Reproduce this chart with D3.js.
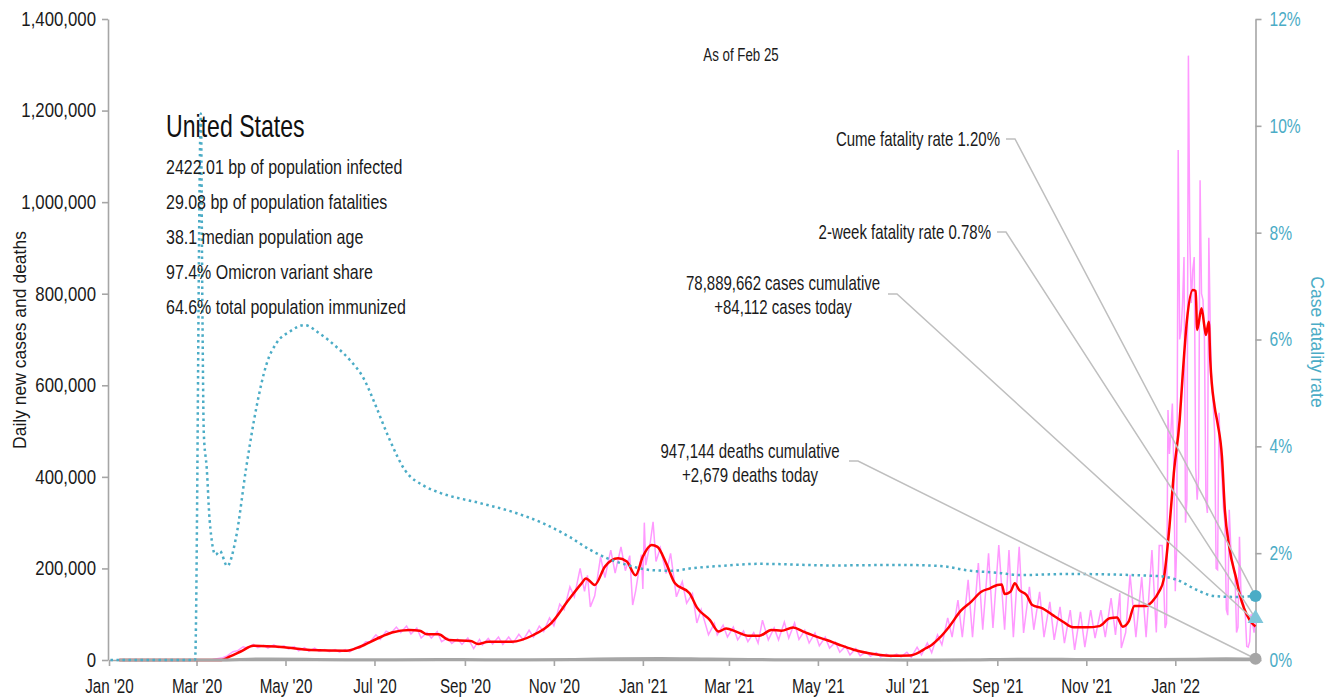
<!DOCTYPE html>
<html>
<head>
<meta charset="utf-8">
<script src="https://cdn.jsdelivr.net/npm/d3@7"></script>
<style>
body { margin: 0; background: #fff; }
text { font-family: "Liberation Sans", Arial, sans-serif; }
</style>
</head>
<body>
<div id="chart"></div>
<script>
// ticks
const yTicks = [0, 200000, 400000, 600000, 800000, 1000000, 1200000, 1400000];
const rateTicks = [0, 0.02, 0.04, 0.06, 0.08, 0.10, 0.12];
const xTicks = ["2020-01-01","2020-03-01","2020-05-01","2020-07-01","2020-09-01","2020-11-01",
  "2021-01-01","2021-03-01","2021-05-01","2021-07-01","2021-09-01","2021-11-01","2022-01-01"];

// daily new cases, thousands
const dailyCasesK = [
  ["2020-01-08",0],["2020-02-29",0],["2020-03-05",0.2],["2020-03-08",0.5],["2020-03-12",1],["2020-03-15",3],
  ["2020-03-19",5],["2020-03-22",9],["2020-03-26",18],["2020-03-29",20],["2020-04-02",29],["2020-04-05",26],
  ["2020-04-09",34],["2020-04-12",27],["2020-04-16",32],["2020-04-19",26],["2020-04-23",33],["2020-04-26",27],
  ["2020-04-30",31],["2020-05-03",24],["2020-05-07",29],["2020-05-10",20],["2020-05-14",27],["2020-05-17",19],
  ["2020-05-21",26],["2020-05-24",19],["2020-05-28",23],["2020-05-31",18],["2020-06-04",23],["2020-06-07",17],
  ["2020-06-11",23],["2020-06-14",18],["2020-06-18",27],["2020-06-21",26],["2020-06-25",40],["2020-06-28",40],
  ["2020-07-02",55],["2020-07-05",45],["2020-07-09",63],["2020-07-12",58],["2020-07-16",72],["2020-07-19",60],
  ["2020-07-23",74],["2020-07-26",57],["2020-07-30",70],["2020-08-02",48],["2020-08-06",60],["2020-08-09",48],
  ["2020-08-13",62],["2020-08-16",40],["2020-08-20",48],["2020-08-23",36],["2020-08-27",46],["2020-08-30",34],
  ["2020-09-03",48],["2020-09-07",25],["2020-09-11",45],["2020-09-13",33],["2020-09-17",47],["2020-09-20",35],
  ["2020-09-24",50],["2020-09-27",34],["2020-10-01",50],["2020-10-04",37],["2020-10-08",56],["2020-10-11",44],
  ["2020-10-15",65],["2020-10-18",50],["2020-10-22",74],["2020-10-25",62],["2020-10-29",92],["2020-11-01",75],
  ["2020-11-05",122],["2020-11-08",110],["2020-11-12",160],["2020-11-15",138],["2020-11-19",200],["2020-11-22",150],
  ["2020-11-24",185],["2020-11-26",116],["2020-11-29",140],["2020-12-03",225],["2020-12-06",180],["2020-12-10",240],
  ["2020-12-13",190],["2020-12-17",247],["2020-12-20",195],["2020-12-23",228],["2020-12-25",120],["2020-12-27",150],
  ["2020-12-31",230],["2021-01-01",155],["2021-01-02",300],["2021-01-03",207],["2021-01-06",255],["2021-01-08",302],
  ["2021-01-10",215],["2021-01-13",245],["2021-01-17",189],["2021-01-20",233],["2021-01-24",138],["2021-01-28",171],
  ["2021-01-31",124],["2021-02-04",145],["2021-02-07",81],["2021-02-10",110],["2021-02-15",55],["2021-02-19",80],
  ["2021-02-21",55],["2021-02-25",76],["2021-02-28",50],["2021-03-04",72],["2021-03-07",44],["2021-03-11",63],
  ["2021-03-14",40],["2021-03-18",60],["2021-03-21",37],["2021-03-24",87],["2021-03-28",44],["2021-04-01",70],
  ["2021-04-04",44],["2021-04-08",83],["2021-04-11",48],["2021-04-15",81],["2021-04-18",45],["2021-04-22",65],
  ["2021-04-25",37],["2021-04-29",59],["2021-05-02",31],["2021-05-06",50],["2021-05-09",26],["2021-05-13",39],
  ["2021-05-16",17],["2021-05-20",30],["2021-05-23",11],["2021-05-27",25],["2021-05-30",9],["2021-06-03",18],
  ["2021-06-06",8],["2021-06-10",16],["2021-06-13",7],["2021-06-17",13],["2021-06-20",7],["2021-06-24",13],
  ["2021-06-27",7],["2021-07-01",17],["2021-07-04",6],["2021-07-08",28],["2021-07-11",11],["2021-07-15",37],
  ["2021-07-18",16],["2021-07-22",55],["2021-07-25",33],["2021-07-29",92],["2021-08-01",50],["2021-08-05",131],
  ["2021-08-08",50],["2021-08-12",175],["2021-08-15",50],["2021-08-19",212],["2021-08-22",66],["2021-08-26",233],
  ["2021-08-29",70],["2021-09-02",251],["2021-09-06",66],["2021-09-09",240],["2021-09-12",50],["2021-09-16",247],
  ["2021-09-19",59],["2021-09-23",160],["2021-09-26",66],["2021-09-30",149],["2021-10-03",50],["2021-10-07",127],
  ["2021-10-10",44],["2021-10-14",116],["2021-10-17",37],["2021-10-21",109],["2021-10-24",22],["2021-10-28",105],
  ["2021-10-31",28],["2021-11-04",109],["2021-11-07",48],["2021-11-11",109],["2021-11-14",50],["2021-11-18",135],
  ["2021-11-21",55],["2021-11-24",146],["2021-11-25",26],["2021-11-28",60],["2021-12-01",186],["2021-12-05",50],
  ["2021-12-09",181],["2021-12-12",50],["2021-12-16",240],["2021-12-19",60],["2021-12-21",250],["2021-12-23",250],
  ["2021-12-24",180],["2021-12-25",70],["2021-12-26",80],["2021-12-27",546],["2021-12-28",450],["2021-12-29",500],
  ["2021-12-30",560],["2021-12-31",420],["2022-01-01",150],["2022-01-02",250],["2022-01-03",1114],["2022-01-04",700],
  ["2022-01-05",720],["2022-01-06",780],["2022-01-07",880],["2022-01-08",300],["2022-01-09",350],["2022-01-10",1320],
  ["2022-01-11",911],["2022-01-12",780],["2022-01-13",852],["2022-01-14",880],["2022-01-15",420],["2022-01-16",350],
  ["2022-01-17",400],["2022-01-18",1048],["2022-01-19",800],["2022-01-20",786],["2022-01-21",700],["2022-01-22",350],
  ["2022-01-23",321],["2022-01-24",922],["2022-01-25",721],["2022-01-26",600],["2022-01-27",560],["2022-01-28",496],
  ["2022-01-29",200],["2022-01-30",197],["2022-01-31",540],["2022-02-01",443],["2022-02-02",400],["2022-02-03",334],
  ["2022-02-04",300],["2022-02-05",110],["2022-02-06",98],["2022-02-07",328],["2022-02-08",250],["2022-02-09",220],
  ["2022-02-10",200],["2022-02-11",180],["2022-02-12",60],["2022-02-13",72],["2022-02-14",269],["2022-02-15",150],
  ["2022-02-16",130],["2022-02-17",120],["2022-02-18",100],["2022-02-19",30],["2022-02-20",28],["2022-02-21",40],
  ["2022-02-22",100],["2022-02-23",80],["2022-02-24",60],["2022-02-25",84.112]
];

// 7-day average of new cases, thousands
const avgCasesK = [
  ["2020-01-08",0],["2020-03-18",0],["2020-03-24",8],["2020-03-31",18],["2020-04-09",31],["2020-04-30",27.7],
  ["2020-05-18",21.8],["2020-06-12",20.3],["2020-06-21",29],["2020-07-03",47],["2020-07-13",60],["2020-07-25",65.5],
  ["2020-08-01",64],["2020-08-06",56],["2020-08-14",56],["2020-08-21",43.7],["2020-09-05",41.5],["2020-09-10",35],
  ["2020-09-17",40],["2020-10-03",40],["2020-10-18",54.6],["2020-10-30",80],["2020-11-11",131],["2020-11-20",167.5],
  ["2020-11-23",178],["2020-11-29",164],["2020-12-06",204],["2020-12-15",222],["2020-12-21",215],["2020-12-27",185],
  ["2021-01-01",226],["2021-01-07",251],["2021-01-11",247],["2021-01-17",211],["2021-01-23",167.5],["2021-02-02",146],
  ["2021-02-07",115],["2021-02-16",87],["2021-02-22",62],["2021-02-27",69],["2021-03-06",62],["2021-03-14",53],
  ["2021-03-22",53],["2021-03-30",65.5],["2021-04-06",64],["2021-04-14",71],["2021-04-21",62],["2021-04-30",51],
  ["2021-05-07",43.7],["2021-05-16",32.8],["2021-05-25",23],["2021-06-05",14.6],["2021-06-19",9.4],["2021-07-03",10],
  ["2021-07-10",18],["2021-07-14",25.6],["2021-07-18",32.8],["2021-07-23",47],["2021-07-30",72.8],["2021-08-07",107.7],
  ["2021-08-14",127],["2021-08-21",149],["2021-08-27",156.6],["2021-09-01",163.8],["2021-09-04",165],["2021-09-06",144],
  ["2021-09-10",149],["2021-09-13",167.5],["2021-09-16",153],["2021-09-21",142],["2021-09-25",120],["2021-10-02",113],
  ["2021-10-09",98],["2021-10-16",83.6],["2021-10-23",71.4],["2021-11-01",71.4],["2021-11-10",74],["2021-11-17",91],
  ["2021-11-22",93],["2021-11-26",72.8],["2021-11-30",83.6],["2021-12-04",118],["2021-12-12",118],["2021-12-16",127],
  ["2021-12-21",150],["2021-12-24",175],["2021-12-28",291],["2021-12-31",408],["2022-01-04",524],["2022-01-06",619],
  ["2022-01-09",742],["2022-01-13",808],["2022-01-15",806],["2022-01-16",721],["2022-01-19",768],["2022-01-21",728],
  ["2022-01-22",710],["2022-01-24",739],["2022-01-25",655],["2022-01-28",553],["2022-01-30",517],["2022-02-02",444],
  ["2022-02-04",328],["2022-02-07",247],["2022-02-12",175],["2022-02-14",146],["2022-02-21",87],["2022-02-25",73]
];

// 7-day average deaths
const avgDeaths = [
  ["2020-01-08",0],["2020-03-15",0],["2020-04-15",2200],["2020-05-15",1500],["2020-06-15",700],["2020-07-15",800],
  ["2020-08-15",1050],["2020-09-15",800],["2020-10-15",700],["2020-11-15",1200],["2020-12-15",2600],["2021-01-13",3400],
  ["2021-02-15",2000],["2021-03-15",1100],["2021-04-15",700],["2021-05-15",600],["2021-06-15",300],["2021-07-15",250],
  ["2021-08-15",800],["2021-09-15",1900],["2021-10-15",1500],["2021-11-15",1100],["2021-12-15",1300],["2022-01-15",1900],
  ["2022-02-05",2600],["2022-02-25",2100]
];

// case fatality rate, percent
const fatalityRate = [
  ["2020-01-02",0],["2020-02-29",0],["2020-03-04",10.23],["2020-03-05",6.67],["2020-03-06",4.24],["2020-03-08",3.59],
  ["2020-03-10",2.62],["2020-03-14",1.97],["2020-03-17",2.04],["2020-03-22",1.76],["2020-03-28",2.28],["2020-04-04",3.59],
  ["2020-04-11",4.72],["2020-04-18",5.54],["2020-04-25",5.94],["2020-05-04",6.15],["2020-05-14",6.27],["2020-05-25",6.10],
  ["2020-06-05",5.86],["2020-06-14",5.62],["2020-06-24",5.25],["2020-07-02",4.75],["2020-07-11",4.15],["2020-07-22",3.55],
  ["2020-08-04",3.26],["2020-08-15",3.13],["2020-09-11",2.94],["2020-10-04",2.77],["2020-10-27",2.53],["2020-11-12",2.30],
  ["2020-11-26",2.06],["2020-12-07",1.91],["2020-12-21",1.78],["2021-01-08",1.68],["2021-01-21",1.67],["2021-02-04",1.72],
  ["2021-02-23",1.76],["2021-03-22",1.80],["2021-05-11",1.77],["2021-06-26",1.78],["2021-07-24",1.76],["2021-08-11",1.68],
  ["2021-09-02",1.63],["2021-09-16",1.59],["2021-10-19",1.61],["2021-12-21",1.57],["2022-01-02",1.50],["2022-01-16",1.31],
  ["2022-01-27",1.20],["2022-02-12",1.18],["2022-02-25",1.20]
];

// latest values
const asOf = "2022-02-25";
const cumeRate = 0.012, twoWeekRate = 0.0078, casesToday = 84112, deathsToday = 2679;

const statLines = [
  "2422.01 bp of population infected",
  "29.08 bp of population fatalities",
  "38.1 median population age",
  "97.4% Omicron variant share",
  "64.6% total population immunized"
];

const W = 1335, H = 697;
const parse = d3.timeParse("%Y-%m-%d");

const svg = d3.select("#chart").append("svg")
    .attr("width", W)
    .attr("height", H);

const x = d3.scaleTime()
    .domain([parse("2020-01-01"), parse(asOf)])
    .range([109, 1255.5]);
const y = d3.scaleLinear().domain([0, 1400000]).range([660, 19]);
const yRate = d3.scaleLinear().domain([0, 0.12]).range([660, 19]);

const axisColor = "#a6a6a6";
const teal = "#4bacc6";

// no condensed font installed: squeeze Liberation Sans horizontally
function squeeze(sel, k) {
  sel.each(function() {
    const t = d3.select(this);
    const x0 = +t.attr("x") || 0;
    t.attr("x", x0 / k).attr("transform", "scale(" + k + ",1)");
  });
}

function label(px, py, str, size, anchor, k, color) {
  return svg.append("text")
      .attr("transform", "translate(" + px + "," + py + ") scale(" + k + ",1)")
      .attr("text-anchor", anchor)
      .attr("font-size", size)
      .attr("fill", color || "#1a1a1a")
      .text(str);
}

// axes
const leftAxis = svg.append("g")
    .attr("transform", "translate(108,0)")
    .call(d3.axisLeft(y).tickValues(yTicks).tickFormat(d3.format(",")).tickSize(6).tickSizeOuter(0).tickPadding(6));
leftAxis.selectAll("text").attr("font-size", 20).attr("fill", "#1a1a1a").call(squeeze, 0.84);

const rightAxis = svg.append("g")
    .attr("transform", "translate(1255.5,0)")
    .call(d3.axisRight(yRate).tickValues(rateTicks).tickFormat(d3.format(".0%")).tickSize(6).tickSizeOuter(0).tickPadding(8));
rightAxis.selectAll("text").attr("font-size", 20).attr("fill", teal).call(squeeze, 0.78);

const bottomAxis = svg.append("g")
    .attr("transform", "translate(0,660)")
    .call(d3.axisBottom(x).tickValues(xTicks.map(parse)).tickFormat(d3.timeFormat("%b '%y")).tickSize(6).tickSizeOuter(0).tickPadding(13));
bottomAxis.selectAll("text").attr("font-size", 19.5).attr("fill", "#1a1a1a").call(squeeze, 0.78);

svg.selectAll(".domain, .tick line").attr("stroke", axisColor).attr("stroke-width", 1.6);
svg.selectAll(".tick text").style("font-family", "'Liberation Sans', Arial, sans-serif");

// axis titles
svg.append("text")
    .attr("transform", "translate(26,340) rotate(-90)")
    .attr("text-anchor", "middle")
    .attr("font-size", 17.5)
    .attr("fill", "#1a1a1a")
    .text("Daily new cases and deaths");

svg.append("text")
    .attr("transform", "translate(1311,342) rotate(90)")
    .attr("text-anchor", "middle")
    .attr("font-size", 17.5)
    .attr("fill", teal)
    .text("Case fatality rate");

// series
const lineK = d3.line().x(d => x(parse(d[0]))).y(d => y(d[1] * 1000));

svg.append("path")
    .attr("d", lineK(dailyCasesK))
    .attr("fill", "none")
    .attr("stroke", "#ff99ff")
    .attr("stroke-width", 1.5);

svg.append("path")
    .attr("d", lineK.curve(d3.curveMonotoneX)(avgCasesK))
    .attr("fill", "none")
    .attr("stroke", "#ff0000")
    .attr("stroke-width", 2.5);

svg.append("path")
    .attr("d", d3.line().x(d => x(parse(d[0]))).y(d => y(d[1])).curve(d3.curveMonotoneX)(avgDeaths))
    .attr("fill", "none")
    .attr("stroke", axisColor)
    .attr("stroke-width", 3);

svg.append("path")
    .attr("d", d3.line().x(d => x(parse(d[0]))).y(d => yRate(d[1] / 100)).curve(d3.curveMonotoneX)(fatalityRate))
    .attr("fill", "none")
    .attr("stroke", teal)
    .attr("stroke-width", 2.5)
    .attr("stroke-dasharray", "2.5,3.5");

// text block
label(166, 137, "United States", 31, "start", 0.745, "#111");
statLines.forEach((s, i) => label(166, 174 + i * 35, s, 20.5, "start", 0.78));
label(741, 61, "As of Feb 25", 18.5, "middle", 0.72);

// callouts
const endX = x(parse(asOf));
const callouts = [
  {lines: ["Cume fatality rate 1.20%"], tx: 1000, ty: 146, anchor: "end", lx: 1006, ly: 139, py: yRate(cumeRate)},
  {lines: ["2-week fatality rate 0.78%"], tx: 991, ty: 239, anchor: "end", lx: 997, ly: 232, py: yRate(twoWeekRate)},
  {lines: ["78,889,662 cases cumulative", "+84,112 cases today"], tx: 783, ty: 290, anchor: "middle", lx: 888, ly: 294, py: y(casesToday)},
  {lines: ["947,144 deaths cumulative", "+2,679 deaths today"], tx: 750, ty: 458, anchor: "middle", lx: 849, ly: 461, py: y(deathsToday)}
];

callouts.forEach(c => {
  svg.append("polyline")
      .attr("points", [[c.lx, c.ly], [c.lx + 9, c.ly], [endX, c.py]].map(p => p.join(",")).join(" "))
      .attr("fill", "none")
      .attr("stroke", "#bfbfbf")
      .attr("stroke-width", 1.5);
  c.lines.forEach((t, i) => label(c.tx, c.ty + i * 24, t, 20, c.anchor, 0.75));
});

// end markers
svg.append("circle").attr("cx", endX).attr("cy", yRate(cumeRate)).attr("r", 6).attr("fill", teal);
svg.append("path")
    .attr("d", d3.symbol(d3.symbolTriangle, 110)())
    .attr("transform", "translate(" + endX + "," + yRate(twoWeekRate) + ")")
    .attr("fill", "#7fc6da");
svg.append("circle").attr("cx", endX).attr("cy", y(deathsToday)).attr("r", 6).attr("fill", axisColor);
</script>
</body>
</html>
